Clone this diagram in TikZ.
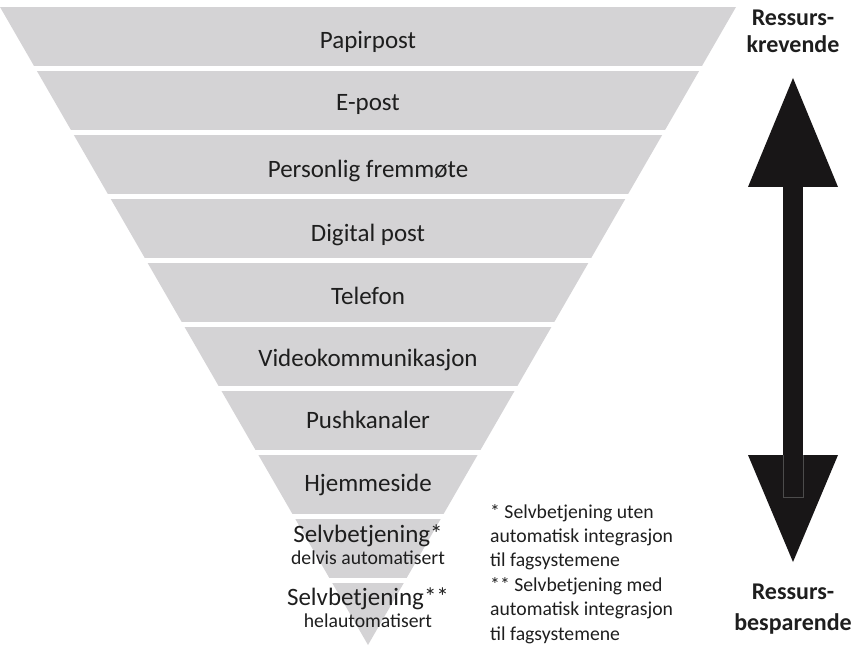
\documentclass[tikz,border=0pt]{standalone}
\usepackage{fontspec}
\setmainfont{Carlito}
\definecolor{bandgray}{RGB}{212,211,213}
\definecolor{arrowblack}{RGB}{24,22,23}
\definecolor{txt}{RGB}{30,30,30}
\begin{document}
\begin{tikzpicture}[x=1pt,y=-1pt,
  band/.style={fill=bandgray},
  lbl/.style={anchor=base,text=txt,inner sep=0pt,font=\fontsize{25}{29}\selectfont},
  sublbl/.style={anchor=base,text=txt,inner sep=0pt,font=\fontsize{19.7}{23}\selectfont},
  side/.style={anchor=base,text=txt,inner sep=0pt,font=\fontsize{24}{28}\selectfont\bfseries},
  note/.style={anchor=base west,text=txt,inner sep=0pt,align=left,font=\fontsize{19.7}{24.4}\selectfont},
  arrowfill/.style={fill=arrowblack}]
\useasboundingbox (0,0) rectangle (867,647);
% funnel bands
\begin{scope}
  \clip (0,7) -- (736,7) -- (368,645) -- cycle;
  \foreach \i in {0,...,8} {
    \fill[band] (0,{7+64*\i}) rectangle (867,{7+64*\i+59});
  }
  \fill[band] (0,583) rectangle (867,647);
\end{scope}
% labels
\node[lbl] (papirpost) at (368,49) {Papirpost};
\node[lbl] (epost) at (368,111) {E-post};
\node[lbl] (personlig) at (368,178) {Personlig fremmøte};
\node[lbl] (digital) at (368,241) {Digital post};
\node[lbl] (telefon) at (368,304) {Telefon};
\node[lbl] (video) at (368,366) {Videokommunikasjon};
\node[lbl] (push) at (368,428) {Pushkanaler};
\node[lbl] (hjemme) at (368,491) {Hjemmeside};
\node[lbl] (selv1) at (368,542) {Selvbetjening*};
\node[sublbl] (selv1sub) at (368,564) {delvis automatisert};
\node[lbl] (selv2) at (368,605) {Selvbetjening**};
\node[sublbl] (selv2sub) at (368,627) {helautomatisert};
% footnote (base anchor = last line baseline)
\node[note] (footnote) at (490,640) {* Selvbetjening uten\\automatisk integrasjon\\til fagsystemene\\** Selvbetjening med\\automatisk integrasjon\\til fagsystemene};
% double arrow
\fill[arrowfill] (783,186) rectangle (803,456);
\fill[arrowfill] (748,187) -- (838,187) -- (793,78) -- cycle;
\fill[arrowfill] (748,455) -- (838,455) -- (793,562) -- cycle;
\draw[color=black!70, line width=0.5pt] (783,455) -- (783,497) -- (803,497) -- (803,455);
% side labels
\node[side] (res1) at (793,26) {Ressurs-};
\node[side] (krev) at (793,53) {krevende};
\node[side] (res2) at (793,599) {Ressurs-};
\node[side] (bespar) at (793,630) {besparende};
\end{tikzpicture}
\end{document}
